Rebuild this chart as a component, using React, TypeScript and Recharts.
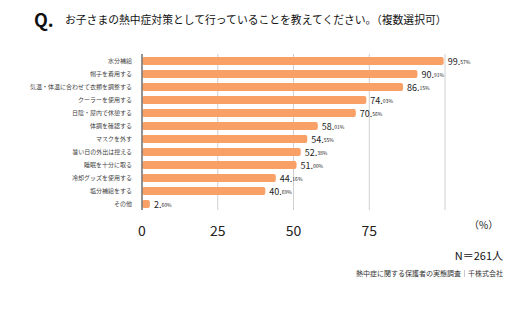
import { BarChart, Bar, XAxis, YAxis, CartesianGrid, LabelList } from 'recharts'

const categories = [
  '水分補給',
  '帽子を着用する',
  '気温・体温に合わせて衣類を調整する',
  'クーラーを使用する',
  '日陰・屋内で休憩する',
  '体調を確認する',
  'マスクを外す',
  '暑い日の外出は控える',
  '睡眠を十分に取る',
  '冷却グッズを使用する',
  '塩分補給をする',
  'その他',
]
const values = [99.57, 90.91, 86.15, 74.03, 70.56, 58.01, 54.55, 52.38, 51.0, 44.16, 40.69, 2.6]
const xTicks = [0, 25, 50, 75, 100]

const data = categories.map((name, i) => ({ name, value: values[i] }))

const ORANGE = '#f9a066'
const FONT = '"Noto Sans CJK JP", "Noto Sans", sans-serif'

function ValueLabel(props: any) {
  const { x, y, width, height, value } = props
  const [intPart, dec] = Number(value).toFixed(2).split('.')
  return (
    <text x={x + width + 4} y={y + height / 2} dominantBaseline="central" fill="#222" fontFamily={FONT}>
      <tspan fontSize={9}>{intPart}.</tspan>
      <tspan fontSize={5}>{dec}%</tspan>
    </text>
  )
}

export default function App() {
  return (
    <div style={{ position: 'absolute', left: 0, top: 0, width: 512, height: 336, background: '#fff', fontFamily: FONT }}>
      <div style={{ position: 'absolute', left: 34, top: 6, fontSize: 18, fontWeight: 700, color: '#111' }}>Q.</div>
      <div style={{ position: 'absolute', left: 65, top: 11, fontSize: 10.8, color: '#111', whiteSpace: 'nowrap' }}>
        お子さまの熱中症対策として行っていることを教えてください。（複数選択可）
      </div>

      <BarChart
        width={512}
        height={250}
        data={data}
        layout="vertical"
        margin={{ top: 54, right: 67, left: 0, bottom: 10 }}
      >
        <CartesianGrid horizontal={false} stroke="#d0d0d0" />
        <XAxis
          type="number"
          domain={[0, 100]}
          ticks={xTicks}
          tickFormatter={(v: number) => (v === 100 ? '' : String(v))}
          axisLine={false}
          tickLine={false}
          tickMargin={10}
          tick={{ fill: '#222', fontSize: 14, fontFamily: FONT }}
          height={30}
        />
        <YAxis
          type="category"
          dataKey="name"
          width={142}
          axisLine={{ stroke: '#777', strokeWidth: 1.5 }}
          tickLine={false}
          tickMargin={4}
          interval={0}
          tick={{ fill: '#444', fontSize: 6, fontFamily: FONT }}
        />
        <Bar dataKey="value" fill={ORANGE} barSize={8} radius={2} isAnimationActive={false}>
          <LabelList dataKey="value" content={<ValueLabel />} />
        </Bar>
      </BarChart>

      <div style={{ position: 'absolute', left: 469, top: 217, fontSize: 10, color: '#222' }}>（%）</div>
      <div style={{ position: 'absolute', right: 9, top: 247, fontSize: 11, color: '#111' }}>N＝261人</div>
      <div style={{ position: 'absolute', right: 9, top: 268, fontSize: 7, color: '#333' }}>
        熱中症に関する保護者の実態調査｜千株式会社
      </div>
    </div>
  )
}
